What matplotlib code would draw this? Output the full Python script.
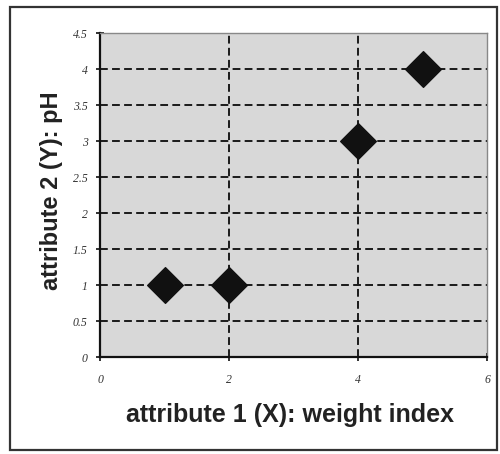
import matplotlib
matplotlib.use("Agg")
import matplotlib.pyplot as plt
from matplotlib.patches import Rectangle

# Data: weight index vs pH
weight_index = [1, 2, 4, 5]
ph_values = [1, 1, 3, 4]

x_ticks = [0, 2, 4, 6]
y_ticks = [0, 0.5, 1, 1.5, 2, 2.5, 3, 3.5, 4, 4.5]
y_tick_labels = ["0", "0.5", "1", "1.5", "2", "2.5", "3", "3.5", "4", "4.5"]

W, H = 500, 454
fig = plt.figure(figsize=(W / 100, H / 100), dpi=100)
fig.patch.set_facecolor("white")

# outer frame around the chart
fig.patches.append(Rectangle((10 / W, 1 - 450 / H), 487 / W, 443 / H,
                             transform=fig.transFigure, fill=False,
                             edgecolor="#333333", linewidth=1.6))

ax = fig.add_axes([100 / W, 1 - 357 / H, 387 / W, (357 - 33) / H])
ax.set_facecolor("#d8d8d8")

ax.set_xlim(0, 6)
ax.set_ylim(0, 4.5)
ax.set_xticks(x_ticks)
ax.set_yticks(y_ticks)
ax.set_yticklabels(y_tick_labels)

# dashed grid lines
for yv in y_ticks[1:-1]:
    ax.axhline(yv, color="#1a1a1a", linestyle=(0, (4, 2.2)), linewidth=1.4, zorder=1)
for xv in x_ticks[1:-1]:
    ax.axvline(xv, color="#1a1a1a", linestyle=(0, (4, 2.2)), linewidth=1.4, zorder=1)

ax.scatter(weight_index, ph_values, marker="D", s=330, color="#111111",
           edgecolors="#111111", zorder=3)

for side in ("left", "bottom"):
    ax.spines[side].set_color("#111111")
    ax.spines[side].set_linewidth(1.6)
for side in ("top", "right"):
    ax.spines[side].set_color("#888888")
    ax.spines[side].set_linewidth(1.0)

ax.tick_params(axis="both", direction="inout", length=6, width=1.3,
               colors="#222222", labelsize=8.5)
ax.tick_params(axis="x", pad=9)
ax.tick_params(axis="y", pad=6)
for lab in ax.get_xticklabels() + ax.get_yticklabels():
    lab.set_fontfamily("Liberation Serif")
    lab.set_fontstyle("italic")
    lab.set_color("#333333")

fig.text(290 / W, 1 - 422 / H, "attribute 1 (X): weight index",
         fontfamily="Liberation Sans", fontweight="bold", fontsize=18,
         color="#222222", ha="center", va="baseline")
fig.text(52 / W, 1 - 191 / H, "attribute 2 (Y): pH",
         fontfamily="Liberation Sans", fontweight="bold", fontsize=17,
         color="#222222", ha="center", va="center", rotation=90)

fig.savefig("out.png", dpi=100)
